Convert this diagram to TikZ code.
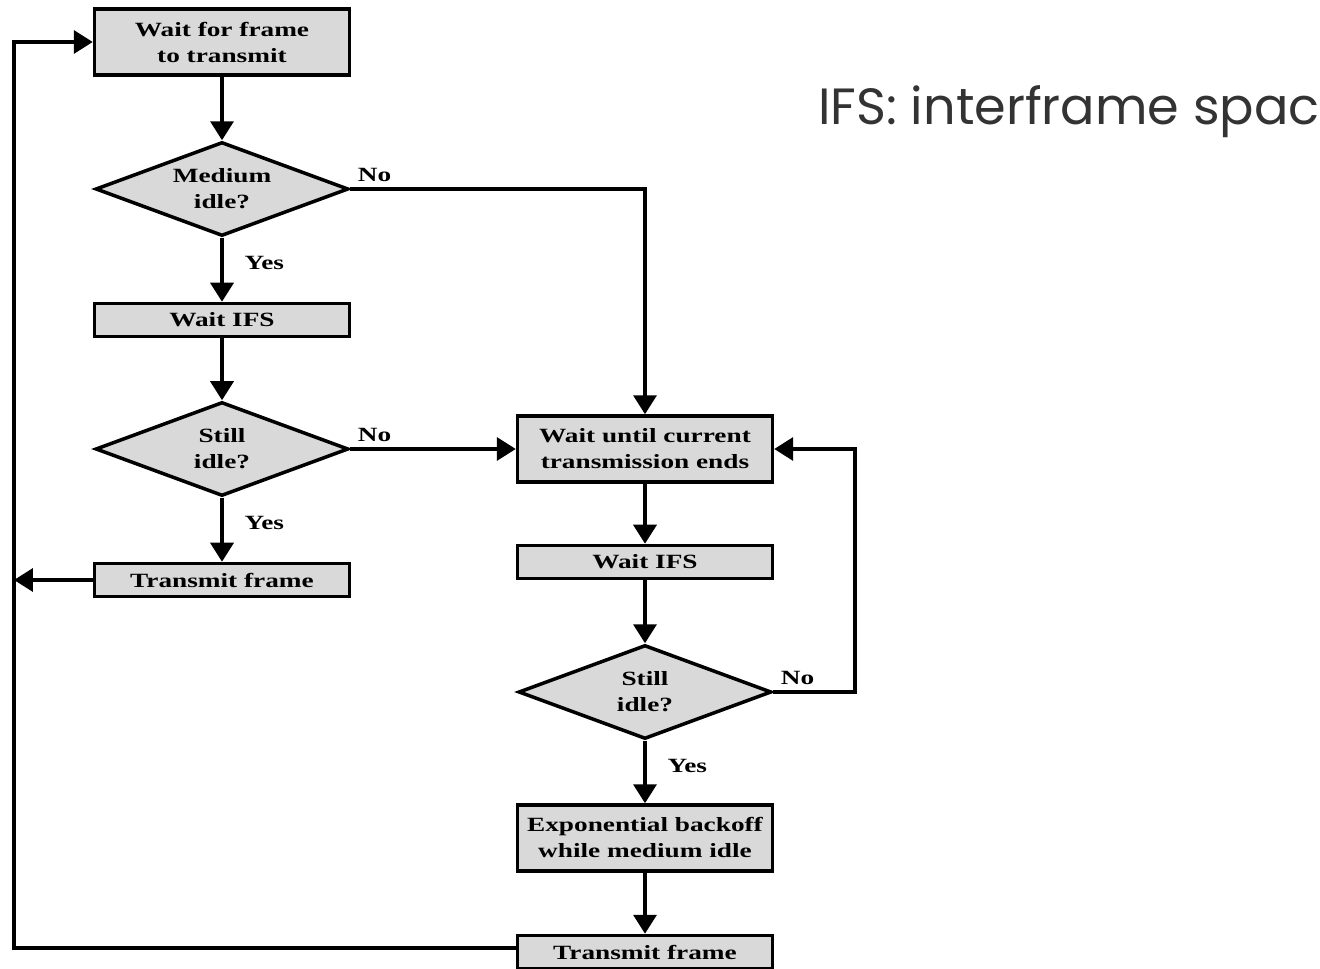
\documentclass[tikz,border=0pt]{standalone}
\usepackage{fontspec}
\setmainfont{Liberation Serif}
\newfontfamily\flowfont[FakeStretch=1.35]{Liberation Serif}
\newfontfamily\notefont{Poppins}
\usetikzlibrary{arrows.meta,positioning,shapes.geometric}
\tikzset{
  box/.style  ={draw, fill=black!15, align=center, minimum width=5.1cm, inner sep=0pt, line width=2pt, font=\flowfont\bfseries\fontsize{11.5}{14.8}\selectfont},
  tall/.style ={box, minimum height=1.32cm},
  flat/.style ={box, minimum height=0.66cm},
  dec/.style  ={diamond, draw, fill=black!15, align=center, aspect=2.7, minimum width=5.06cm, minimum height=1.88cm, inner sep=0pt, line width=2pt, font=\flowfont\bfseries\fontsize{11.5}{14.8}\selectfont},
  arr/.style  ={-{Triangle[length=3.8mm, width=4.6mm]}, line width=2pt},
  lbl/.style  ={font=\flowfont\bfseries\fontsize{11.5}{14.8}\selectfont},
}
\begin{document}
\begin{tikzpicture}[x=0.02cm, y=-0.02cm]
  \useasboundingbox (0,0) rectangle (1320,969);
  \clip (0,0) rectangle (1320,969);
  % left column
  \node[tall] (wait) at (222,42) {Wait for frame\\to transmit};
  \node[dec] (med) at (222,189) {Medium\\idle?};
  \node[flat] (ifs) at (222,320) {Wait IFS};
  \node[dec] (still) at (222,449) {Still\\idle?};
  \node[flat] (tx) at (222,580) {Transmit frame};
  % right column
  \node[tall] (cur) at (645,449) {Wait until current\\transmission ends};
  \node[flat] (ifsb) at (645,562) {Wait IFS};
  \node[dec] (stillb) at (645,692) {Still\\idle?};
  \node[tall] (back) at (645,838) {Exponential backoff\\while medium idle};
  \node[flat] (txb) at (645,952) {Transmit frame};
  \coordinate (lb) at (14,948);
  \coordinate (lt) at (14,42);
  \coordinate (rr) at (855,692);
  \node[font=\notefont\fontsize{29}{34}\selectfont, text=black!80, anchor=base west, inner sep=0pt] (note) at (818,125) {IFS: interframe space};
  \draw[arr] (wait) -- (med);
  \draw[arr] (med) -- node[lbl, right=3mm, pos=0.4] {Yes} (ifs);
  \draw[arr] (ifs) -- (still);
  \draw[arr] (still) -- node[lbl, right=3mm, pos=0.4] {Yes} (tx);
  \draw[arr] (med.east) node[lbl, above right] {No} -| (cur.north);
  \draw[arr] (still.east) node[lbl, above right] {No} -- (cur.west);
  \draw[arr] (tx.west) -- (tx.west -| lb);
  \draw[arr] (cur) -- (ifsb);
  \draw[arr] (ifsb) -- (stillb);
  \draw[arr] (stillb) -- node[lbl, right=3mm, pos=0.4] {Yes} (back);
  \draw[arr] (back) -- (txb);
  \draw[arr] (stillb.east) node[lbl, above right] {No} -- (rr) |- (cur.east);
  \draw[arr] (txb.west |- lb) -- (lb) -- (lt) -- (wait.west);
\end{tikzpicture}
\end{document}
